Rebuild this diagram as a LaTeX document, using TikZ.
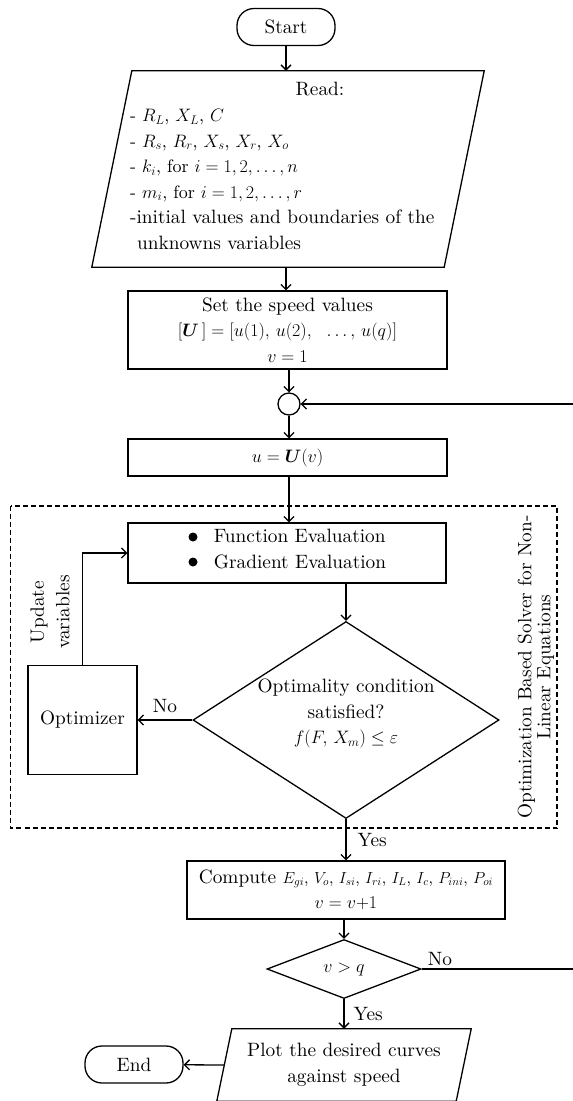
\RequirePackage{fix-cm}
\documentclass[tikz,border=0pt]{standalone}
\usepackage{fontspec}
\setmainfont{lmroman10-regular.otf}[ItalicFont=lmroman10-italic.otf,BoldFont=lmroman10-bold.otf]
\usepackage{amsmath,amssymb}
\usetikzlibrary{arrows.meta,shapes.geometric,positioning,calc}
\tikzset{%
  every node/.style={font=\fontsize{19.3}{25.5}\selectfont},
  terminal/.style={draw,line width=1.3pt,rounded corners=17pt,minimum width=98pt,minimum height=37pt,inner sep=0pt},
  process/.style={draw,line width=1.3pt,minimum width=319pt,align=center,inner sep=0pt},
  decision/.style={draw,line width=1.3pt,diamond,inner sep=0pt,align=center},
  flow/.style={line width=1.3pt,-{Straight Barb[length=5pt,width=10pt]}},
  lbl/.style={inner sep=0pt},
  dot/.style={circle,fill,inner sep=0pt,minimum size=9pt},
}
\newcommand*{\mf}{\fontsize{18}{25.5}\selectfont}

\begin{document}
\begin{tikzpicture}[x=1pt,y=-1pt]
  \useasboundingbox (0,0) rectangle (573,1101);
  \node[terminal] (start) at (286,27) {Start};
  % input block (parallelogram)
  \node[minimum width=352pt,minimum height=196pt,inner sep=0pt] (read) at (288,169) {};
  \draw[line width=1.3pt] ([xshift=20pt]read.north west) -- ([xshift=20pt]read.north east)
    -- ([xshift=-20pt]read.south east) -- ([xshift=-20pt]read.south west) -- cycle;
  \node (readhd) at (320,89) {Read:};
  \node[anchor=north west,align=left,inner sep=0pt] (readls) at (130,109) {%
    {\mf - $R_L$, $X_L$, $C$}\\
    {\mf - $R_s$, $R_r$, $X_s$, $X_r$, $X_o$}\\
    {\mf - $k_i$, for $i = 1, 2, \ldots, n$}\\
    {\mf - $m_i$, for $i = 1, 2, \ldots, r$}\\
    -initial values and boundaries of the\\
    \hspace*{7pt}unknowns variables};
  \node[process,minimum height=78pt] (set) at (287.5,330)
    {Set the speed values\\ {\mf $[\boldsymbol{U}\,] = [u(1),\, u(2),\ \ \ldots,\, u(q)]$}\\ {\mf $v = 1$}};
  \node[draw,circle,line width=1.3pt,minimum size=22pt,inner sep=0pt] (junc) at (289,404) {};
  \node[process,minimum height=37pt] (ubox) at (287.5,457.5) {\mf $u = \boldsymbol{U}(v)$};
  % solver frame
  \draw[line width=1.1pt,dash pattern=on 5pt off 3pt] (10.5,506) rectangle (557,828);
  \node[process,align=left,minimum width=318pt,minimum height=60pt] (func) at (287,553)
    {\hspace*{26pt}Function Evaluation\\ \hspace*{26pt}Gradient Evaluation\\[-17pt]};
  \node[dot] (dot1) at (193,537) {};
  \node[dot] (dot2) at (193,562) {};
  \node[draw,line width=1.3pt,minimum size=109pt,inner sep=0pt] (opt) at (82.5,720) {Optimizer};
  \node[decision,aspect=1.55,minimum width=306pt,minimum height=197pt] (dec1) at (346,720)
    {Optimality condition\\ satisfied?\\ {\mf $f(F,\, X_m) \le \varepsilon$}\\[-8pt]};
  \node[rotate=90,align=center] (upd) at (50,612) {Update\\variables};
  \node[rotate=90,align=center,font=\fontsize{19.3}{19}\selectfont] (slv) at (536,667)
    {Optimization Based Solver for Non-\\Linear Equations};
  \node[process,minimum width=318pt,minimum height=58pt] (comp) at (346,890)
    {Compute {\fontsize{16}{25.5}\selectfont $E_{gi}$, $V_o$, $I_{si}$, $I_{ri}$, $I_L$, $I_c$, $P_{ini}$, $P_{oi}$}\\ {\mf $v = v{+}1$}};
  \node[decision,aspect=2.6,minimum width=154pt,minimum height=59pt] (dec2) at (344,969) {\mf $v > q$};
  % output block (parallelogram)
  \node[align=center,minimum width=239pt,minimum height=72pt,inner sep=0pt] (plot) at (344,1065)
    {Plot the desired curves\\ against speed};
  \draw[line width=1.3pt] ([xshift=7.5pt]plot.north west) -- ([xshift=7.5pt]plot.north east)
    -- ([xshift=-7.5pt]plot.south east) -- ([xshift=-7.5pt]plot.south west) -- cycle;
  \node[terminal] (end) at (134,1064.5) {End};

  \draw[flow] (start) -- (read.north -| start);
  \draw[flow] (read.south -| start) -- (set.north -| start);
  \draw[flow] (set.south -| junc) -- (junc);
  \draw[flow] (junc) -- (ubox.north -| junc);
  \draw[flow] (ubox.south -| junc) -- (func.north -| junc);
  \draw[flow] (func.south -| dec1) -- (dec1);
  \draw[flow] (dec1.west) -- (opt.east) node[lbl,midway,above=7pt] {No};
  \draw[flow] (opt.north) |- (func.west);
  \draw[flow] (dec1.south) -- (comp.north -| dec1) node[lbl,midway,right=11pt] {Yes};
  \draw[flow] (comp.south -| dec2) -- (dec2);
  \draw[flow] (dec2.south) -- (plot.north -| dec2) node[lbl,midway,right=9pt] {Yes};
  \draw[flow] (plot.west) -- (end);
  \draw[flow] (dec2.east) -- ++(170,0) |- (junc.east);
  \node[lbl,anchor=south west] (no2) at ([xshift=6pt,yshift=3pt]dec2.east) {No};
\end{tikzpicture}
\end{document}
